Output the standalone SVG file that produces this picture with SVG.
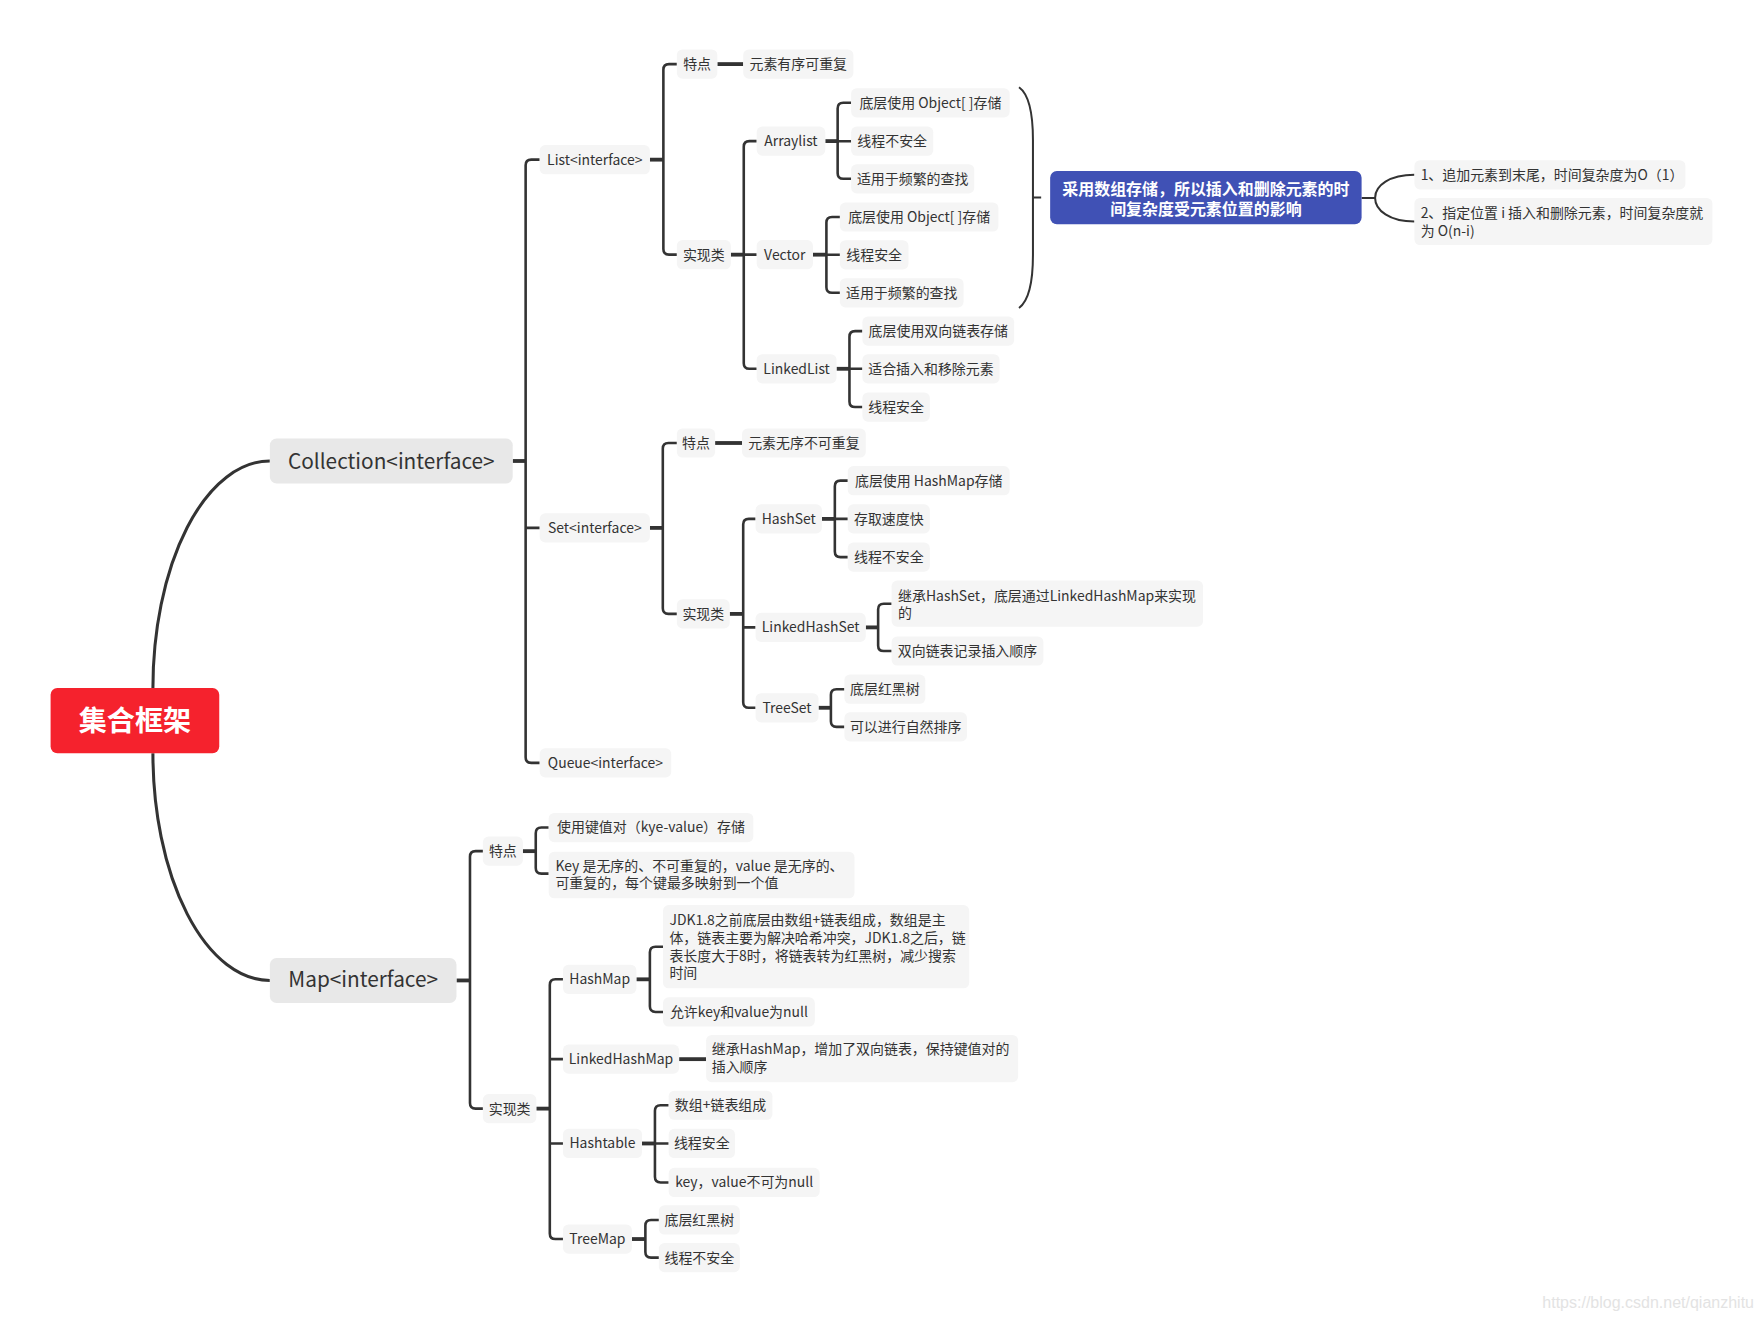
<svg xmlns="http://www.w3.org/2000/svg" width="1763" height="1323" viewBox="0 0 1763 1323">
<style>
.nb{fill:#f5f5f5}
.tx{font-family:"Noto Sans CJK SC","Noto Sans",sans-serif;font-size:12.4px;fill:#333}
.tm{text-anchor:middle}
.ln{fill:none;stroke:#333;stroke-width:2.3}
.st{fill:none;stroke:#333;stroke-width:3.4}
.cv{fill:none;stroke:#333;stroke-width:2.7}
.br{fill:none;stroke:#333;stroke-width:1.8}
.l1{fill:#e8e8e8}
.t1{font-family:"Noto Sans CJK SC","Noto Sans",sans-serif;font-size:18.5px;fill:#333;text-anchor:middle}
</style>
<rect width="1763" height="1323" fill="#ffffff"/>
<g transform="scale(1.12436)">
<g id="connectors">
<path class="cv" d="M136,612 A104,202 0 0 1 240,410"/>
<path class="cv" d="M136,670 A104,202 0 0 0 240,872"/>
<!-- Collection -->
<path class="st" d="M456,410 H467.5"/>
<path class="ln" d="M480,142 H472.5 Q467.5,142 467.5,147 V673.5 Q467.5,678.5 472.5,678.5 H480 M467.5,469.5 H480"/>
<!-- List -->
<path class="st" d="M578,142 H590"/>
<path class="ln" d="M602,57 H595 Q590,57 590,62 V221.5 Q590,226.5 595,226.5 H602"/>
<path class="st" d="M638,57 H661"/>
<path class="st" d="M650,226.5 H661.5"/>
<path class="ln" d="M673,125.5 H666.5 Q661.5,125.5 661.5,130.5 V323 Q661.5,328 666.5,328 H673 M661.5,226.5 H673"/>
<path class="st" d="M734,125.5 H745"/>
<path class="ln" d="M757,91.4 H750 Q745,91.4 745,96.4 V154 Q745,159 750,159 H757 M745,125.6 H757"/>
<path class="st" d="M723,226.5 H735"/>
<path class="ln" d="M747,193 H740 Q735,193 735,198 V255.4 Q735,260.4 740,260.4 H747 M735,226.6 H747"/>
<path class="st" d="M744,328 H755.5"/>
<path class="ln" d="M767,294.5 H760.5 Q755.5,294.5 755.5,299.5 V357 Q755.5,362 760.5,362 H767 M755.5,328 H767"/>
<path class="br" d="M906.3,77.6 C916,84.5 918.7,102.3 918.7,124.5 V226.8 C918.7,249 916,266.8 906.3,273.9 M918.7,175.6 H926"/>
<path class="br" d="M1211,176 H1223 M1258,155.5 C1236,155.5 1223,165 1223,176 C1223,187 1236,197 1258,197"/>
<!-- Set -->
<path class="st" d="M578,469.5 H589.5"/>
<path class="ln" d="M602,394 H594.5 Q589.5,394 589.5,399 V541 Q589.5,546 594.5,546 H602"/>
<path class="st" d="M636,394 H660"/>
<path class="st" d="M649,546 H661"/>
<path class="ln" d="M672,461.5 H666 Q661,461.5 661,466.5 V624.5 Q661,629.5 666,629.5 H672 M661,558 H672"/>
<path class="st" d="M731,461.5 H742.5"/>
<path class="ln" d="M754,427.5 H747.5 Q742.5,427.5 742.5,432.5 V490.5 Q742.5,495.5 747.5,495.5 H754 M742.5,461.5 H754"/>
<path class="st" d="M770,558 H781"/>
<path class="ln" d="M793,537 H786 Q781,537 781,542 V574 Q781,579 786,579 H793"/>
<path class="st" d="M728,629.5 H739"/>
<path class="ln" d="M751,613 H744 Q739,613 739,618 V641.5 Q739,646.5 744,646.5 H751"/>
<!-- Map -->
<path class="st" d="M406,872 H418"/>
<path class="ln" d="M429.5,757 H423 Q418,757 418,762 V981 Q418,986 423,986 H429.5"/>
<path class="st" d="M465,757 H476.5"/>
<path class="ln" d="M488,736 H481.5 Q476.5,736 476.5,741 V772 Q476.5,777 481.5,777 H488"/>
<path class="st" d="M477,986 H489"/>
<path class="ln" d="M500.7,871 H494 Q489,871 489,876 V1097 Q489,1102 494,1102 H500.7 M489,942 H500.7 M489,1017 H500.7"/>
<path class="st" d="M566,871 H578"/>
<path class="ln" d="M589.7,842 H583 Q578,842 578,847 V895 Q578,900 583,900 H589.7"/>
<path class="st" d="M604,942 H628"/>
<path class="st" d="M571,1017 H582.5"/>
<path class="ln" d="M594.7,983 H587.5 Q582.5,983 582.5,988 V1046.7 Q582.5,1051.7 587.5,1051.7 H594.7 M582.5,1017 H594.7"/>
<path class="st" d="M562,1102 H574"/>
<path class="ln" d="M586,1085 H579 Q574,1085 574,1090 V1113.5 Q574,1118.5 579,1118.5 H586"/>
</g>

<g id="n-root"><rect x="45" y="612" width="150" height="58" rx="6" fill="#f5222d"/><text x="120" y="650" text-anchor="middle" font-family="'Noto Sans CJK SC',sans-serif" font-size="25" font-weight="bold" fill="#ffffff">集合框架</text></g>
<g id="n-collection"><rect class="l1" x="240" y="390" width="216" height="40" rx="6"/><text class="t1" x="348" y="417">Collection&lt;interface&gt;</text></g>
<g id="n-map"><rect class="l1" x="240" y="852" width="166" height="40" rx="6"/><text class="t1" x="323" y="878">Map&lt;interface&gt;</text></g>

<g id="n-list"><rect class="nb" x="480" y="129" width="98" height="26" rx="5"/><text class="tx tm" x="529" y="146.4">List&lt;interface&gt;</text></g>
<g id="n-set"><rect class="nb" x="480" y="456.5" width="98" height="26" rx="5"/><text class="tx tm" x="529" y="473.9">Set&lt;interface&gt;</text></g>
<g id="n-queue"><rect class="nb" x="480" y="665.5" width="117" height="26" rx="5"/><text class="tx tm" x="538.5" y="682.9">Queue&lt;interface&gt;</text></g>

<g id="n-list-feat"><rect class="nb" x="602" y="44" width="36" height="26" rx="5"/><text class="tx tm" x="620" y="61.4">特点</text></g>
<g id="n-list-feat-1"><rect class="nb" x="661" y="44" width="98" height="26" rx="5"/><text class="tx tm" x="710" y="61.4">元素有序可重复</text></g>
<g id="n-list-impl"><rect class="nb" x="602" y="213.5" width="48" height="26" rx="5"/><text class="tx tm" x="626" y="230.9">实现类</text></g>
<g id="n-arraylist"><rect class="nb" x="673" y="112.5" width="61" height="26" rx="5"/><text class="tx tm" x="703.5" y="129.9">Arraylist</text></g>
<g id="n-al-1"><rect class="nb" x="757" y="78.4" width="141" height="26" rx="5"/><text class="tx tm" x="827.5" y="95.8">底层使用 Object[ ]存储</text></g>
<g id="n-al-2"><rect class="nb" x="757" y="112.6" width="73" height="26" rx="5"/><text class="tx tm" x="793.5" y="130">线程不安全</text></g>
<g id="n-al-3"><rect class="nb" x="757" y="146" width="109.5" height="26" rx="5"/><text class="tx tm" x="811.75" y="163.4">适用于频繁的查找</text></g>
<g id="n-vector"><rect class="nb" x="673" y="213.5" width="50" height="26" rx="5"/><text class="tx tm" x="698" y="230.9">Vector</text></g>
<g id="n-v-1"><rect class="nb" x="747" y="180" width="141" height="26" rx="5"/><text class="tx tm" x="817.5" y="197.4">底层使用 Object[ ]存储</text></g>
<g id="n-v-2"><rect class="nb" x="747" y="213.6" width="61" height="26" rx="5"/><text class="tx tm" x="777.5" y="231">线程安全</text></g>
<g id="n-v-3"><rect class="nb" x="747" y="247.4" width="110" height="26" rx="5"/><text class="tx tm" x="802" y="264.8">适用于频繁的查找</text></g>
<g id="n-linkedlist"><rect class="nb" x="673" y="315" width="71" height="26" rx="5"/><text class="tx tm" x="708.5" y="332.4">LinkedList</text></g>
<g id="n-ll-1"><rect class="nb" x="767" y="281.5" width="135" height="26" rx="5"/><text class="tx tm" x="834.5" y="298.9">底层使用双向链表存储</text></g>
<g id="n-ll-2"><rect class="nb" x="767" y="315" width="122" height="26" rx="5"/><text class="tx tm" x="828" y="332.4">适合插入和移除元素</text></g>
<g id="n-ll-3"><rect class="nb" x="767" y="349" width="60" height="26" rx="5"/><text class="tx tm" x="797" y="366.4">线程安全</text></g>

<g id="n-array-note"><rect x="934" y="152" width="277" height="47.5" rx="6" fill="#4051b5"/><text x="1072.5" y="173" text-anchor="middle" font-family="'Noto Sans CJK SC',sans-serif" font-size="14.2" font-weight="bold" fill="#ffffff">采用数组存储，所以插入和删除元素的时</text><text x="1072.5" y="191" text-anchor="middle" font-family="'Noto Sans CJK SC',sans-serif" font-size="14.2" font-weight="bold" fill="#ffffff">间复杂度受元素位置的影响</text></g>
<g id="n-note-1"><rect class="nb" x="1258" y="142.5" width="241" height="26" rx="5"/><text class="tx" x="1263.5" y="160">1、追加元素到末尾，时间复杂度为O（1）</text></g>
<g id="n-note-2"><rect class="nb" x="1258" y="176" width="265" height="42" rx="5"/><text class="tx" x="1263.5" y="194"><tspan x="1263.5" y="194">2、指定位置 i 插入和删除元素，时间复杂度就</tspan><tspan x="1263.5" y="210">为 O(n-i)</tspan></text></g>

<g id="n-set-feat"><rect class="nb" x="602" y="381" width="34" height="26" rx="5"/><text class="tx tm" x="619" y="398.4">特点</text></g>
<g id="n-set-feat-1"><rect class="nb" x="660" y="381" width="110" height="26" rx="5"/><text class="tx tm" x="715" y="398.4">元素无序不可重复</text></g>
<g id="n-set-impl"><rect class="nb" x="602" y="533" width="47" height="26" rx="5"/><text class="tx tm" x="625.5" y="550.4">实现类</text></g>
<g id="n-hashset"><rect class="nb" x="672" y="448.5" width="59" height="26" rx="5"/><text class="tx tm" x="701.5" y="465.9">HashSet</text></g>
<g id="n-hs-1"><rect class="nb" x="754" y="414.5" width="144" height="26" rx="5"/><text class="tx tm" x="826" y="431.9">底层使用 HashMap存储</text></g>
<g id="n-hs-2"><rect class="nb" x="754" y="448.5" width="73" height="26" rx="5"/><text class="tx tm" x="790.5" y="465.9">存取速度快</text></g>
<g id="n-hs-3"><rect class="nb" x="754" y="482.5" width="73" height="26" rx="5"/><text class="tx tm" x="790.5" y="499.9">线程不安全</text></g>
<g id="n-linkedhashset"><rect class="nb" x="672" y="545" width="98" height="26" rx="5"/><text class="tx tm" x="721" y="562.4">LinkedHashSet</text></g>
<g id="n-lhs-1"><rect class="nb" x="793" y="516.4" width="277" height="41" rx="5"/><text class="tx" x="798.7" y="534.2"><tspan x="798.7" y="534.2">继承HashSet，底层通过LinkedHashMap来实现</tspan><tspan x="798.7" y="549.7">的</tspan></text></g>
<g id="n-lhs-2"><rect class="nb" x="793" y="566" width="135" height="26" rx="5"/><text class="tx tm" x="860.5" y="583.4">双向链表记录插入顺序</text></g>
<g id="n-treeset"><rect class="nb" x="672" y="616.5" width="56" height="26" rx="5"/><text class="tx tm" x="700" y="633.9">TreeSet</text></g>
<g id="n-ts-1"><rect class="nb" x="751" y="600" width="72" height="26" rx="5"/><text class="tx tm" x="787" y="617.4">底层红黑树</text></g>
<g id="n-ts-2"><rect class="nb" x="751" y="633.5" width="109" height="26" rx="5"/><text class="tx tm" x="805.5" y="650.9">可以进行自然排序</text></g>

<g id="n-map-feat"><rect class="nb" x="429.5" y="744" width="35.5" height="26" rx="5"/><text class="tx tm" x="447.25" y="761.4">特点</text></g>
<g id="n-mf-1"><rect class="nb" x="488" y="723" width="182" height="26" rx="5"/><text class="tx tm" x="579" y="740.4">使用键值对（kye-value）存储</text></g>
<g id="n-mf-2"><rect class="nb" x="488" y="757.5" width="272" height="41.5" rx="5"/><text class="tx" x="494" y="774.4"><tspan x="494" y="774.4">Key 是无序的、不可重复的，value 是无序的、</tspan><tspan x="494" y="790">可重复的，每个键最多映射到一个值</tspan></text></g>
<g id="n-map-impl"><rect class="nb" x="429.5" y="973" width="47.5" height="26" rx="5"/><text class="tx tm" x="453.25" y="990.4">实现类</text></g>
<g id="n-hashmap"><rect class="nb" x="500.7" y="858" width="65.3" height="26" rx="5"/><text class="tx tm" x="533.35" y="875.4">HashMap</text></g>
<g id="n-hm-1"><rect class="nb" x="589.7" y="805" width="272.3" height="74" rx="5"/><text class="tx" x="595.4" y="822.7"><tspan x="595.4" y="822.7">JDK1.8之前底层由数组+链表组成，数组是主</tspan><tspan x="595.4" y="838.5">体，链表主要为解决哈希冲突，JDK1.8之后，链</tspan><tspan x="595.4" y="854.3">表长度大于8时，将链表转为红黑树，减少搜索</tspan><tspan x="595.4" y="870.1">时间</tspan></text></g>
<g id="n-hm-2"><rect class="nb" x="589.7" y="887" width="135" height="26" rx="5"/><text class="tx tm" x="657.2" y="904.4">允许key和value为null</text></g>
<g id="n-linkedhashmap"><rect class="nb" x="500.7" y="929" width="103.3" height="26" rx="5"/><text class="tx tm" x="552.35" y="946.4">LinkedHashMap</text></g>
<g id="n-lhm-1"><rect class="nb" x="628" y="920.5" width="277.5" height="42" rx="5"/><text class="tx" x="633" y="937.4"><tspan x="633" y="937.4">继承HashMap，增加了双向链表，保持键值对的</tspan><tspan x="633" y="953.1">插入顺序</tspan></text></g>
<g id="n-hashtable"><rect class="nb" x="500.7" y="1004" width="70.3" height="26" rx="5"/><text class="tx tm" x="535.85" y="1021.4">Hashtable</text></g>
<g id="n-ht-1"><rect class="nb" x="594.7" y="970" width="92.3" height="26" rx="5"/><text class="tx tm" x="640.85" y="987.4">数组+链表组成</text></g>
<g id="n-ht-2"><rect class="nb" x="594.7" y="1004" width="59" height="26" rx="5"/><text class="tx tm" x="624.2" y="1021.4">线程安全</text></g>
<g id="n-ht-3"><rect class="nb" x="594.7" y="1038.7" width="134.3" height="26" rx="5"/><text class="tx tm" x="661.85" y="1056.1">key，value不可为null</text></g>
<g id="n-treemap"><rect class="nb" x="500.7" y="1089" width="61.3" height="26" rx="5"/><text class="tx tm" x="531.35" y="1106.4">TreeMap</text></g>
<g id="n-tm-1"><rect class="nb" x="586" y="1072" width="72" height="26" rx="5"/><text class="tx tm" x="622" y="1089.4">底层红黑树</text></g>
<g id="n-tm-2"><rect class="nb" x="586" y="1105.5" width="72" height="26" rx="5"/><text class="tx tm" x="622" y="1122.9">线程不安全</text></g>
</g>
<text x="1754" y="1308" text-anchor="end" font-family="'Liberation Sans',Arial,sans-serif" font-size="16" fill="#e3e3e3">https://blog.csdn.net/qianzhitu</text>
</svg>
